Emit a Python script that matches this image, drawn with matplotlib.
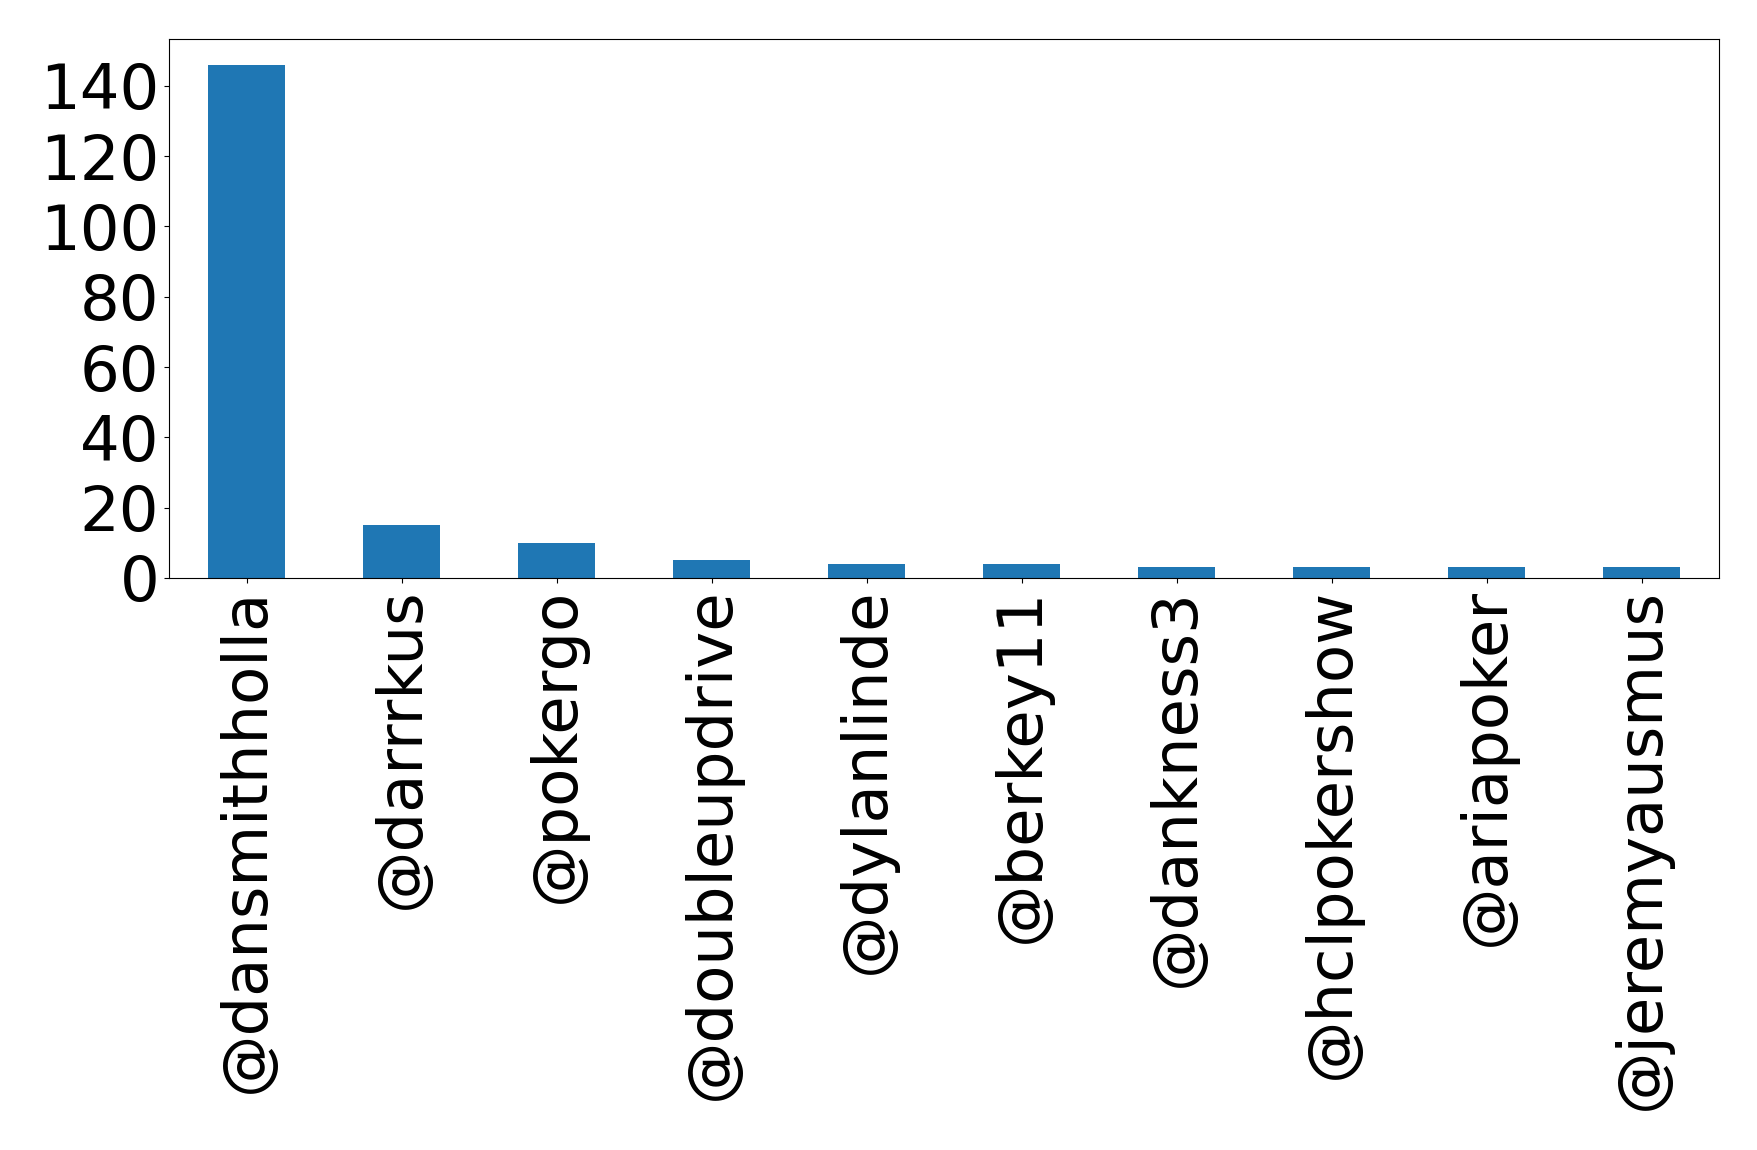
import matplotlib
matplotlib.use("Agg")
import matplotlib.pyplot as plt
from matplotlib.ticker import MultipleLocator

handles = ["@dansmithholla", "@darrrkus", "@pokergo", "@doubleupdrive", "@dylanlinde",
           "@berkey11", "@dankness3", "@hclpokershow", "@ariapoker", "@jeremyausmus"]
counts = [146, 15, 10, 5, 4, 4, 3, 3, 3, 3]

fig = plt.figure(figsize=(17.58, 11.5), dpi=100)
ax = fig.add_axes([169/1758, 1 - 578/1150, (1719-169)/1758, (578-39)/1150])
x = range(len(handles))
ax.bar(x, counts, width=0.5, color="#1f77b4")
ax.set_xlim(-0.5, len(handles) - 0.5)
ax.set_xticks(list(x))
ax.set_xticklabels(handles, rotation=90, fontsize=45)
ax.yaxis.set_major_locator(MultipleLocator(20))
ax.tick_params(axis="y", labelsize=45)
fig.savefig("out.png", dpi=100)
